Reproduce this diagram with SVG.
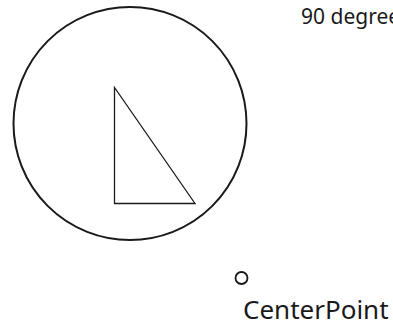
<svg xmlns="http://www.w3.org/2000/svg" width="393" height="329" viewBox="0 0 393 329">
  <style>
    .shape { fill: none; stroke: #1a1a1a; }
    .lbl { font-family: "Noto Sans", "Open Sans", sans-serif; fill: #1a1a1a; }
  </style>
  <rect width="393" height="329" fill="#ffffff"/>
  <g id="outer-circle">
    <circle class="shape" cx="130" cy="123.5" r="116.5" stroke-width="2"/>
  </g>
  <g id="triangle">
    <polygon class="shape" points="114.5,87.5 114.5,203.5 195,203.5" stroke-width="1.3"/>
  </g>
  <g id="angle-label">
    <text class="lbl" x="301" y="23.5" font-size="21">90 degrees</text>
  </g>
  <g id="center-point">
    <circle class="shape" cx="241.5" cy="278" r="6" stroke-width="1.8"/>
    <text class="lbl" x="243" y="319" font-size="26">CenterPoint</text>
  </g>
</svg>
